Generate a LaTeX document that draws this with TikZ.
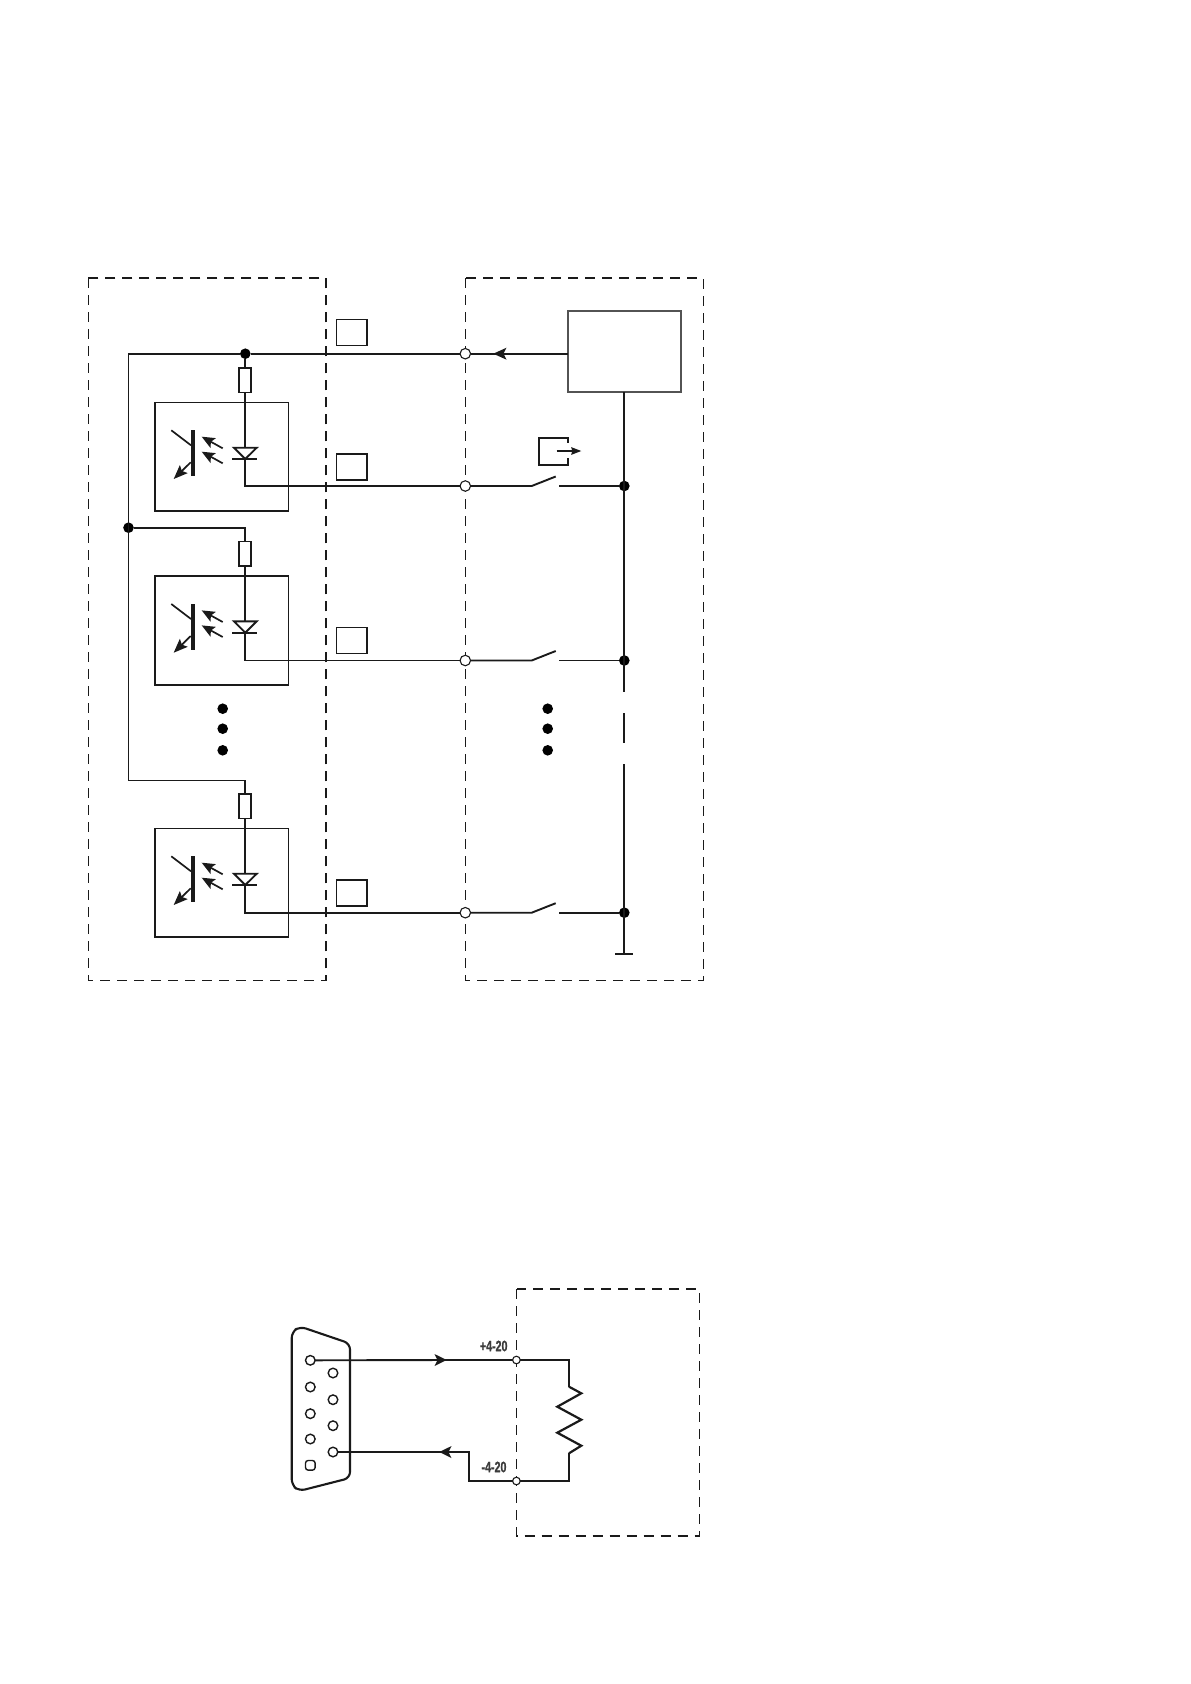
\documentclass[tikz,border=0pt]{standalone}
\usepackage{fontspec}
\setmainfont{Liberation Sans}
\newfontfamily\cjfont[BoldFeatures={FakeBold=1.2}]{Liberation Sans}
\usetikzlibrary{arrows.meta}
\definecolor{ink}{HTML}{1A1A1A}
\tikzset{
  wire/.style={draw=ink,line width=1.9pt},
  thinwire/.style={draw=ink,line width=1.9pt},
  dashbox/.style={draw=ink,line width=1.5pt,dash pattern=on 10pt off 7pt},
  box/.style={draw=ink,line width=1.7pt,rectangle,inner sep=0pt,outer sep=0pt},
  tagbox/.style={box,line width=1.5pt,minimum width=30.7pt,minimum height=26pt},
  optobox/.style={box,minimum width=133.3pt,minimum height=108.5pt},
  resbox/.style={box,fill=white,minimum width=12.3pt,minimum height=24.8pt},
  terminal/.style={circle,draw=ink,fill=white,line width=1.1pt,inner sep=0pt,outer sep=0pt,minimum size=10.5pt},
  smallterminal/.style={terminal,minimum size=7.6pt},
  pin/.style={circle,draw=ink,fill=white,line width=1.4pt,inner sep=0pt,outer sep=0pt,minimum size=9.6pt},
  junction/.style={circle,fill=black,inner sep=0pt,outer sep=0pt,minimum size=10.6pt},
  arrowhead/.style={-{Stealth[length=14pt,width=11pt,inset=2.5pt]}},
  lightarrow/.style={-{Stealth[length=13pt,width=11pt,inset=2.5pt]}},
  cjlabel/.style={font=\fontsize{15}{15}\selectfont\cjfont\bfseries,text=ink!85,inner sep=0pt},
}
\begin{document}
\begin{tikzpicture}[x=1pt,y=-1pt]
\useasboundingbox (0,0) rectangle (1191,1684);
% dashed enclosures
\draw[dashbox] (88.3,278) rectangle (326,980.3);
\draw[dashbox] (465.3,278) rectangle (703.3,980.3);
\draw[dashbox] (516.7,1289) rectangle (699.3,1536);
% supply block and its wire
\node[box,draw=ink!75,minimum width=112.7pt,minimum height=81pt] (plc) at (624.3,351.5) {};
\node[tagbox] (tag0) at (351.6,332.3) {};
\node[terminal] (t0) at (465.3,353.7) {};
\node[junction] (j0) at (245.3,353.7) {};
\node[junction] (j2) at (128.5,527.7) {};
\coordinate (cornerA) at (128.5,353.7);
\coordinate (cornerB) at (128.5,780.5);
\coordinate (cornerC) at (245.3,527.7);
\coordinate (cornerD) at (245.3,780.5);
\coordinate (tip0) at (493.3,353.7);
% three optocoupler channels
\foreach \i/\dy/\wy in {1/0/486, 2/173.7/660.5, 3/426/912.7}{
  \begin{scope}[shift={(0,\dy)}]
    \node[optobox] (opto\i) at (221.7,456.7) {};
    \node[resbox] (res\i) at (245,380.2) {};
    \node[tagbox] (tag\i) at (351.6,466.9) {};
    \coordinate (dtop\i) at (245.3,447.7);
    \coordinate (dbot\i) at (245.3,459);
    % photo-transistor
    \draw[ink,line width=4pt] (193,430.3) -- (193,476);
    \draw[ink,line width=1.7pt] (171.3,430.3) -- (191,445.3);
    \draw[ink,line width=1.7pt,arrowhead] (190.7,462.3) -- (173.7,479);
    \draw[ink,line width=1.7pt,lightarrow] (222.7,448.3) -- (201.7,436.7);
    \draw[ink,line width=1.7pt,lightarrow] (222.7,463.3) -- (201.7,451.7);
    % diode
    \draw[ink,line width=1.9pt,line join=miter,fill=white] (234,447.7) -- (256.7,447.7) -- (245.3,459) -- cycle;
    \draw[ink,line width=1.9pt] (232.3,459) -- (256.7,459);
  \end{scope}
  \node[terminal] (t\i) at (465.3,\wy) {};
  \node[junction] (r\i) at (624.3,\wy) {};
  \coordinate (swa\i) at (531.7,\wy);
  \coordinate (swb\i) at (555.7,\wy-9.5);
  \coordinate (swc\i) at (559.3,\wy);
  \draw[wire] (res\i.south -| dtop\i) -- (dtop\i);
  \draw[wire] (dbot\i) |- (t\i.west);
  \draw[wire,line join=round] (t\i.east) -- (swa\i) -- (swb\i);
  \draw[wire] (swc\i) -- (r\i.west);
}
% top rail and branches
\draw[wire] (plc.west |- t0.east) -- (tip0);
\fill[ink] (tip0) -- (506.5,347.7) -- (503.5,353.7) -- (506.5,359.7) -- cycle;
\draw[wire] (tip0) -- (t0.east);
\draw[wire] (t0.west) -- (j0.east);
\draw[wire] (j0.south) -- (res1.north -| j0);
\draw[wire] (j0.west) -- (cornerA) -- (cornerB) -- (cornerD) -- (res3.north -| cornerD);
\draw[wire] (j2.east) -- (cornerC) -- (res2.north -| cornerC);
% continuation dots
\foreach \n/\yy in {a/708.7, b/728.7, c/750.3}{
  \node[junction] (ldot\n) at (222.7,\yy) {};
  \node[junction] (rdot\n) at (547.7,\yy) {};
}
% right rail
\coordinate (railA) at (624,691.7);
\coordinate (railB) at (624,713.3);
\coordinate (railC) at (624,742.7);
\coordinate (railD) at (624,764);
\coordinate (gnd) at (624,953.7);
\draw[ink,line width=1.9pt] (plc.south -| railA) -- (railA);
\draw[ink,line width=1.9pt] (railB) -- (railC);
\draw[ink,line width=1.9pt] (railD) -- (gnd);
\draw[ink,line width=2pt] (615.3,953.7) -- (632.7,953.7);
% actuating symbol of the first switch
\draw[ink,line width=1.8pt,line join=miter] (567.7,442.7) -- (567.7,438.3) -- (539.3,438.3) -- (539.3,464.7) -- (567.7,464.7) -- (567.7,458.3);
\draw[ink,line width=1.4pt,-{Stealth[length=10pt,width=7.5pt,inset=1pt]}] (556.7,451) -- (581.3,451);
% --- lower diagram ---
\draw[ink,line width=2.1pt,rounded corners=6pt] (291.7,1332) -- (291.7,1485) -- (299,1491) -- (350,1478) -- (350,1343.5) -- (300,1326.5) -- cycle;
\foreach \n/\xx/\yy in {1/310.3/1360.3, 2/310.3/1387, 3/310.3/1413.7, 4/310.3/1439, 6/333/1373, 7/333/1399.7, 8/333/1425.7, 9/333/1452}{
  \node[pin] (p\n) at (\xx,\yy) {};
}
\node[pin,rectangle,rounded corners=2.6pt,minimum size=9.6pt] (p5) at (310.3,1465.3) {};
\node[smallterminal] (tp) at (516.4,1360) {};
\node[smallterminal] (tm) at (516.4,1481) {};
\node[cjlabel] (lp) at (493.7,1346) {\scalebox{.71}[1]{+4-20}};
\node[cjlabel] (lm) at (494,1467) {\scalebox{.71}[1]{-4-20}};
\coordinate (rtop) at (569,1360);
\coordinate (rbot) at (569,1481);
\coordinate (za) at (569,1386.7);
\coordinate (zb) at (569,1453.3);
\coordinate (kink) at (469.3,1481);
\coordinate (kinkb) at (469.3,1452);
\coordinate (tipu) at (446.7,1360);
\coordinate (tipl) at (439.3,1452);
\draw[thinwire] (p1.east) -- (tipu) -- (tp.west);
\fill[ink] (tipu) -- (434.5,1354) -- (437.5,1360) -- (434.5,1366) -- cycle;
\draw[thinwire] (tp.east) -- (rtop) -- (za);
\draw[ink,line width=2.2pt,line join=miter] (za) -- (581.3,1393.3) -- (557.3,1406.7) -- (581.3,1419.7) -- (557.3,1432.7) -- (581.3,1445.7) -- (zb);
\draw[thinwire] (zb) -- (rbot) -- (tm.east);
\draw[thinwire] (tm.west) -- (kink) -- (kinkb) -- (tipl) -- (p9.east);
\fill[ink] (tipl) -- (451.5,1446) -- (448.5,1452) -- (451.5,1458) -- cycle;
\end{tikzpicture}
\end{document}
